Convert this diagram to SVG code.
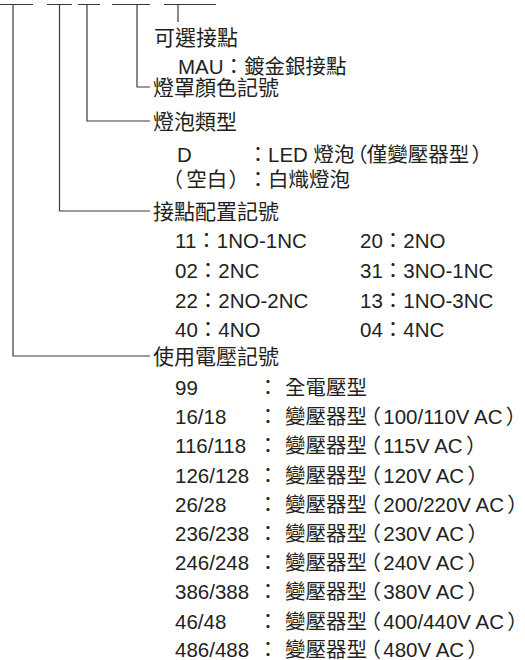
<svg xmlns="http://www.w3.org/2000/svg" width="525" height="660" viewBox="0 0 525 660">
<style>
text{font-family:"Liberation Sans","Noto Sans CJK TC",sans-serif;fill:#231f20;font-size:20.5px}
.h{font-size:21px}
.c{text-anchor:middle}
.p{font-feature-settings:"palt"}
.ln{stroke:#3a3a3a;stroke-width:1.2;fill:none}
</style>
<rect width="525" height="660" fill="#fff"/>
<g id="connectors" class="ln">
<path d="M0 4.5H33M47 4.5H72M78 4.5H100M112 4.5H150M164 4.5H216"/>
<path d="M13 4.5V356H150"/>
<path d="M59.5 4.5V211H150"/>
<path d="M87 4.5V121H150"/>
<path d="M137 4.5V87H150"/>
<path d="M178 4.5V22"/>
</g>
<g id="option">
<text class="h" x="154" y="44.5">可選接點</text>
<text x="178" y="74">MAU：鍍金銀接點</text>
</g>
<g id="cover-color">
<text class="h" x="153" y="95">燈罩顏色記號</text>
</g>
<g id="bulb-type">
<text class="h" x="153" y="129">燈泡類型</text>
<text x="177" y="162">D</text>
<text class="c" x="258" y="162">：</text>
<text x="268" y="162">LED 燈泡<tspan class="p" dx="2">（</tspan>僅變壓器型<tspan class="p" dx="3">）</tspan></text>
<text x="172" y="187"><tspan class="p">（</tspan><tspan dx="4">空白</tspan><tspan class="p" dx="2">）</tspan></text>
<text class="c" x="258" y="187">：</text>
<text x="268" y="187">白熾燈泡</text>
</g>
<g id="contacts">
<text class="h" x="153" y="218.5">接點配置記號</text>
<text x="175" y="248">11：1NO-1NC</text>
<text x="175" y="278">02：2NC</text>
<text x="175" y="308">22：2NO-2NC</text>
<text x="175" y="337">40：4NO</text>
<text x="360" y="248">20：2NO</text>
<text x="360" y="278">31：3NO-1NC</text>
<text x="360" y="308">13：1NO-3NC</text>
<text x="360" y="337">04：4NC</text>
</g>
<g id="voltage">
<text class="h" x="153" y="363.5">使用電壓記號</text>
<text x="175" y="395">99</text><text class="c" x="268" y="395">：</text><text x="285" y="395">全電壓型</text>
<text x="175" y="424.2">16/18</text><text class="c" x="268" y="424.2">：</text><text x="285" y="424.2">變壓器型<tspan class="p" dx="3">（</tspan><tspan dx="3">100/110V AC</tspan><tspan class="p" dx="4">）</tspan></text>
<text x="175" y="453.4">116/118</text><text class="c" x="268" y="453.4">：</text><text x="285" y="453.4">變壓器型<tspan class="p" dx="3">（</tspan><tspan dx="3">115V AC</tspan><tspan class="p" dx="4">）</tspan></text>
<text x="175" y="482.6">126/128</text><text class="c" x="268" y="482.6">：</text><text x="285" y="482.6">變壓器型<tspan class="p" dx="3">（</tspan><tspan dx="3">120V AC</tspan><tspan class="p" dx="4">）</tspan></text>
<text x="175" y="511.8">26/28</text><text class="c" x="268" y="511.8">：</text><text x="285" y="511.8">變壓器型<tspan class="p" dx="3">（</tspan><tspan dx="3">200/220V AC</tspan><tspan class="p" dx="4">）</tspan></text>
<text x="175" y="541">236/238</text><text class="c" x="268" y="541">：</text><text x="285" y="541">變壓器型<tspan class="p" dx="3">（</tspan><tspan dx="3">230V AC</tspan><tspan class="p" dx="4">）</tspan></text>
<text x="175" y="570.2">246/248</text><text class="c" x="268" y="570.2">：</text><text x="285" y="570.2">變壓器型<tspan class="p" dx="3">（</tspan><tspan dx="3">240V AC</tspan><tspan class="p" dx="4">）</tspan></text>
<text x="175" y="599.4">386/388</text><text class="c" x="268" y="599.4">：</text><text x="285" y="599.4">變壓器型<tspan class="p" dx="3">（</tspan><tspan dx="3">380V AC</tspan><tspan class="p" dx="4">）</tspan></text>
<text x="175" y="628.6">46/48</text><text class="c" x="268" y="628.6">：</text><text x="285" y="628.6">變壓器型<tspan class="p" dx="3">（</tspan><tspan dx="3">400/440V AC</tspan><tspan class="p" dx="4">）</tspan></text>
<text x="175" y="657.2">486/488</text><text class="c" x="268" y="657.2">：</text><text x="285" y="657.2">變壓器型<tspan class="p" dx="3">（</tspan><tspan dx="3">480V AC</tspan><tspan class="p" dx="4">）</tspan></text>
</g>
</svg>
